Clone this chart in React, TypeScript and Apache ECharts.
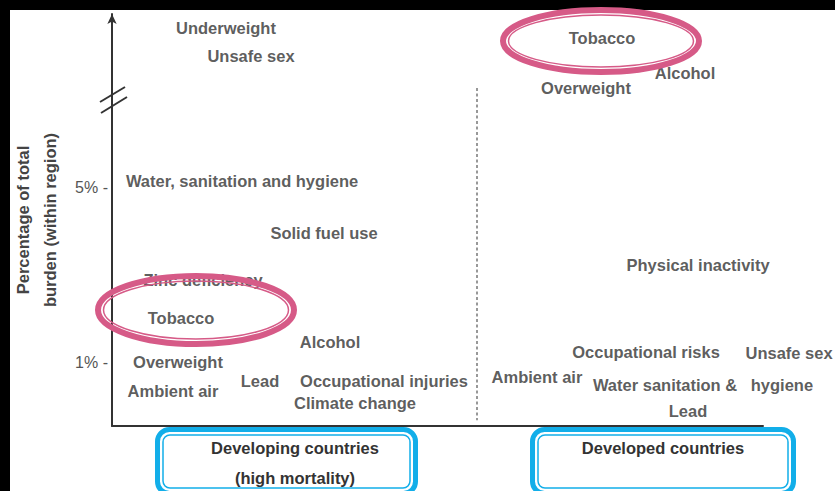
import { useEffect, useRef } from 'react';
import * as echarts from 'echarts';

// Developing countries (high mortality)
const developingRisks = [
  'Underweight', 'Unsafe sex', 'Water, sanitation and hygiene', 'Solid fuel use',
  'Zinc deficiency', 'Tobacco', 'Alcohol', 'Overweight', 'Lead',
  'Occupational injuries', 'Ambient air', 'Climate change',
];
const developingShare = [8.61, 7.98, 5.14, 3.95, 2.89, 2.02, 1.48, 1.02, 0.59, 0.59, 0.36, 0.09];
const developingSpread = [17.5, 21.35, 19.97, 32.57, 13.98, 10.6, 33.49, 10.14, 22.73, 41.78, 9.37, 37.33];

// Developed countries
const developedRisks = [
  'Tobacco', 'Alcohol', 'Overweight', 'Physical inactivity', 'Occupational risks',
  'Unsafe sex', 'Ambient air', 'Water sanitation &', 'hygiene', 'Lead',
];
const developedShare = [8.39, 7.59, 7.25, 3.23, 1.25, 1.23, 0.68, 0.5, 0.5, -0.09];
const developedSpread = [75.27, 88.02, 72.81, 90.02, 82.03, 104.0, 65.28, 84.95, 102.9, 88.48];

const regionGroups = ['Developing countries\n(high mortality)', 'Developed countries'];
const regionCentres = [28.11, 84.64];
const yTickValues = [1, 5];
const dividerX = 56.07;
const dividerSpan = [7.25, -0.3];

const TEXT = '#333333';
const PINK = '#d65a87';
const BLUE = '#12aee9';
const FONT = '"Liberation Sans", Arial, sans-serif';

function toPoints(names: string[], xs: number[], ys: number[]) {
  return names.map((n, i) => ({ name: n, value: [xs[i], ys[i]] }));
}

export default function App() {
  const ref = useRef<HTMLDivElement>(null);
  useEffect(() => {
    if (!ref.current) return;
    const chart = echarts.init(ref.current, null, { renderer: 'svg' });
    const labelStyle = {
      show: true,
      position: 'inside',
      formatter: '{b}',
      color: TEXT,
      fontSize: 16.5,
      fontWeight: 'bold',
      fontFamily: FONT,
    };
    const ellipse = (cx: number, cy: number, rx: number, ry: number) => [
      { type: 'ellipse', z: 110, shape: { cx, cy, rx, ry }, style: { fill: 'none', stroke: PINK, lineWidth: 6 } },
      { type: 'ellipse', z: 110, shape: { cx, cy, rx: rx - 5.5, ry: ry - 5 }, style: { fill: 'none', stroke: PINK, lineWidth: 1.5 } },
    ];
    const box = (x: number, w: number) => [
      { type: 'rect', z: 110, shape: { x: x + 2.5, y: 429.5, width: w - 5, height: 64, r: 12 }, style: { fill: 'none', stroke: BLUE, lineWidth: 5 } },
      { type: 'rect', z: 110, shape: { x: x + 8, y: 435, width: w - 16, height: 53, r: 7 }, style: { fill: 'none', stroke: BLUE, lineWidth: 1.5 } },
    ];
    chart.setOption({
      animation: false,
      backgroundColor: '#ffffff',
      grid: { left: 112, right: 72, top: 14, bottom: 65, containLabel: false, outerBoundsMode: 'none' },
      xAxis: {
        type: 'value',
        min: 0,
        max: 100,
        splitLine: { show: false },
        axisTick: { show: false },
        axisLine: { show: true, onZero: false, lineStyle: { color: '#333', width: 2 } },
        axisLabel: {
          customValues: regionCentres,
          formatter: (v: number) => regionGroups[regionCentres.indexOf(v)] ?? '',
          margin: 7,
          color: TEXT,
          fontSize: 16.5,
          fontWeight: 'bold',
          fontFamily: FONT,
          lineHeight: 30,
        },
      },
      yAxis: {
        type: 'value',
        min: -0.432,
        max: 8.932,
        splitLine: { show: false },
        axisTick: { show: false },
        axisLine: {
          show: true,
          onZero: false,
          symbol: ['none', 'arrow'],
          symbolSize: [7, 10],
          lineStyle: { color: '#333', width: 2 },
        },
        axisLabel: {
          customValues: yTickValues,
          formatter: (v: number) => `${v}% -`,
          margin: 4,
          color: '#555',
          fontSize: 16,
          fontFamily: FONT,
        },
        name: 'Percentage of total\nburden (within region)',
        nameLocation: 'middle',
        nameRotate: 90,
        nameGap: 49,
        nameTextStyle: {
          color: '#444',
          fontSize: 16.5,
          fontWeight: 'bold',
          fontFamily: FONT,
          lineHeight: 27,
        },
      },
      series: [
        {
          name: 'Developing countries',
          type: 'scatter',
          clip: false,
          symbolSize: 1,
          itemStyle: { color: 'rgba(0,0,0,0)' },
          label: labelStyle,
          data: toPoints(developingRisks, developingSpread, developingShare),
          markLine: {
            silent: true,
            symbol: ['none', 'none'],
            label: { show: false },
            lineStyle: { color: '#777', width: 1.5, type: [3, 2.5] },
            data: [[{ coord: [dividerX, dividerSpan[0]] }, { coord: [dividerX, dividerSpan[1]] }]],
          },
        },
        {
          name: 'Developed countries',
          type: 'scatter',
          clip: false,
          symbolSize: 1,
          itemStyle: { color: 'rgba(0,0,0,0)' },
          label: labelStyle,
          data: toPoints(developedRisks, developedSpread, developedShare),
        },
      ],
      graphic: [
        { type: 'rect', z: 100, shape: { x: 0, y: 0, width: 835, height: 10 }, style: { fill: '#000' } },
        { type: 'rect', z: 100, shape: { x: 0, y: 0, width: 10, height: 491 }, style: { fill: '#000' } },
        { type: 'line', z: 105, shape: { x1: 100, y1: 102, x2: 125, y2: 87 }, style: { stroke: '#333', lineWidth: 2 } },
        { type: 'line', z: 105, shape: { x1: 101, y1: 113, x2: 127, y2: 97 }, style: { stroke: '#333', lineWidth: 2 } },
        ...ellipse(601, 41, 98, 31),
        ...ellipse(196, 310, 98, 34),
        ...box(155, 263),
        ...box(530, 266),
      ],
    });
    return () => chart.dispose();
  }, []);
  return (
    <div
      ref={ref}
      style={{ position: 'fixed', left: 0, top: 0, width: 835, height: 491, background: '#fff' }}
    />
  );
}
